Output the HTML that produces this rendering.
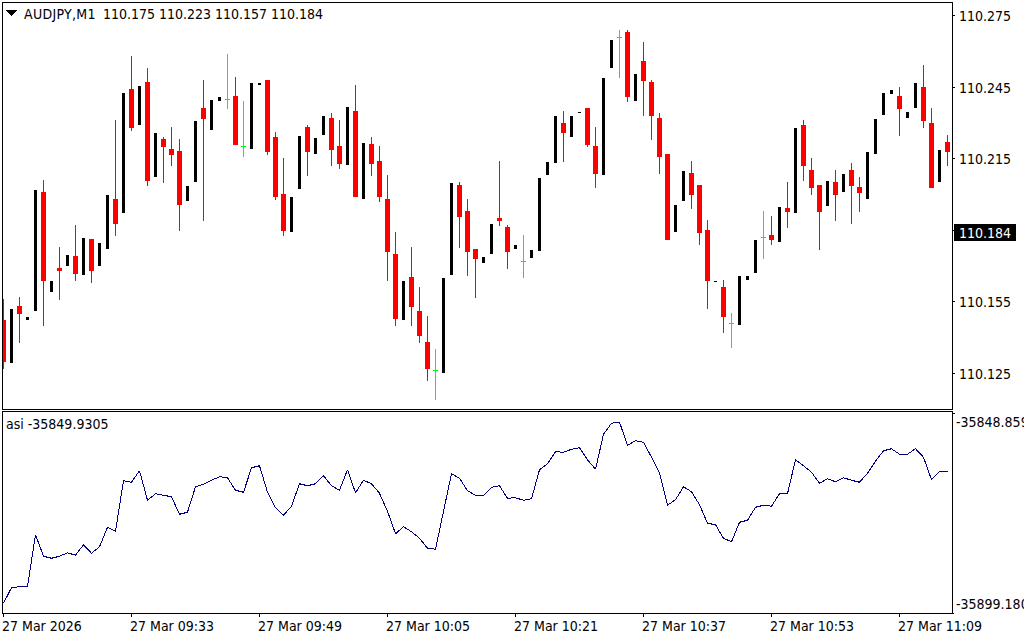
<!DOCTYPE html>
<html><head><meta charset="utf-8"><style>
html,body{margin:0;padding:0;background:#fff;width:1024px;height:640px;overflow:hidden}
#w{position:relative;width:1024px;height:640px}
svg{position:absolute;left:0;top:0}
.t{position:absolute;font-family:"DejaVu Sans Condensed", "DejaVu Sans", sans-serif;font-size:14px;font-stretch:condensed;line-height:17px;white-space:pre}
</style></head><body><div id="w">
<svg width="1024" height="640" viewBox="0 0 1024 640" shape-rendering="crispEdges">
<rect x="0" y="0" width="1024" height="640" fill="#fff"/>
<defs><clipPath id="cm"><rect x="3" y="3" width="949" height="406"/></clipPath><clipPath id="ci"><rect x="3" y="412" width="949" height="201"/></clipPath></defs>
<g clip-path="url(#cm)"><rect x="3" y="299" width="1" height="70" fill="#f00"/>
<rect x="1" y="320" width="5" height="42" fill="#f00"/>
<rect x="10" y="309" width="3" height="54" fill="#000"/>
<rect x="19" y="297" width="1" height="46" fill="#f00"/>
<rect x="17" y="306" width="5" height="8" fill="#f00"/>
<rect x="26" y="317" width="3" height="3" fill="#000"/>
<rect x="34" y="190" width="3" height="121" fill="#000"/>
<rect x="43" y="180" width="1" height="146" fill="#f00"/>
<rect x="41" y="192" width="5" height="89" fill="#f00"/>
<rect x="50" y="281" width="3" height="11" fill="#000"/>
<rect x="59" y="247" width="1" height="53" fill="#f00"/>
<rect x="57" y="268" width="5" height="3" fill="#f00"/>
<rect x="66" y="255" width="3" height="11" fill="#000"/>
<rect x="75" y="225" width="1" height="56" fill="#f00"/>
<rect x="73" y="256" width="5" height="18" fill="#f00"/>
<rect x="82" y="238" width="3" height="37" fill="#000"/>
<rect x="91" y="239" width="1" height="44" fill="#f00"/>
<rect x="89" y="239" width="5" height="32" fill="#f00"/>
<rect x="98" y="243" width="3" height="23" fill="#000"/>
<rect x="106" y="195" width="3" height="54" fill="#000"/>
<rect x="115" y="120" width="1" height="116" fill="#f00"/>
<rect x="113" y="199" width="5" height="25" fill="#f00"/>
<rect x="122" y="93" width="3" height="120" fill="#000"/>
<rect x="131" y="56" width="1" height="75" fill="#f00"/>
<rect x="129" y="89" width="5" height="39" fill="#f00"/>
<rect x="138" y="86" width="3" height="39" fill="#000"/>
<rect x="147" y="68" width="1" height="118" fill="#f00"/>
<rect x="145" y="82" width="5" height="99" fill="#f00"/>
<rect x="154" y="133" width="3" height="44" fill="#000"/>
<rect x="163" y="137" width="1" height="46" fill="#f00"/>
<rect x="161" y="139" width="5" height="8" fill="#f00"/>
<rect x="171" y="127" width="1" height="39" fill="#f00"/>
<rect x="169" y="149" width="5" height="6" fill="#f00"/>
<rect x="179" y="139" width="1" height="92" fill="#f00"/>
<rect x="177" y="151" width="5" height="54" fill="#f00"/>
<rect x="186" y="186" width="3" height="15" fill="#000"/>
<rect x="194" y="121" width="3" height="61" fill="#000"/>
<rect x="203" y="80" width="1" height="141" fill="#f00"/>
<rect x="201" y="108" width="5" height="11" fill="#f00"/>
<rect x="210" y="100" width="3" height="30" fill="#000"/>
<rect x="218" y="97" width="3" height="4" fill="#000"/>
<rect x="227" y="54" width="1" height="55" fill="#0f0"/>
<rect x="225" y="99" width="5" height="1" fill="#0f0"/>
<rect x="235" y="77" width="1" height="68" fill="#f00"/>
<rect x="233" y="96" width="5" height="49" fill="#f00"/>
<rect x="243" y="101" width="1" height="56" fill="#0f0"/>
<rect x="241" y="146" width="5" height="1" fill="#0f0"/>
<rect x="250" y="83" width="3" height="66" fill="#000"/>
<rect x="258" y="83" width="3" height="2" fill="#000"/>
<rect x="267" y="80" width="1" height="75" fill="#f00"/>
<rect x="265" y="80" width="5" height="72" fill="#f00"/>
<rect x="275" y="132" width="1" height="68" fill="#f00"/>
<rect x="273" y="137" width="5" height="60" fill="#f00"/>
<rect x="283" y="158" width="1" height="78" fill="#f00"/>
<rect x="281" y="194" width="5" height="37" fill="#f00"/>
<rect x="290" y="197" width="3" height="35" fill="#000"/>
<rect x="298" y="136" width="3" height="53" fill="#000"/>
<rect x="307" y="125" width="1" height="51" fill="#f00"/>
<rect x="305" y="127" width="5" height="25" fill="#f00"/>
<rect x="314" y="138" width="3" height="16" fill="#000"/>
<rect x="322" y="116" width="3" height="19" fill="#000"/>
<rect x="331" y="113" width="1" height="53" fill="#f00"/>
<rect x="329" y="118" width="5" height="32" fill="#f00"/>
<rect x="339" y="120" width="1" height="49" fill="#f00"/>
<rect x="337" y="146" width="5" height="18" fill="#f00"/>
<rect x="346" y="107" width="3" height="58" fill="#000"/>
<rect x="355" y="85" width="1" height="112" fill="#f00"/>
<rect x="353" y="111" width="5" height="86" fill="#f00"/>
<rect x="362" y="143" width="3" height="56" fill="#000"/>
<rect x="371" y="137" width="1" height="39" fill="#f00"/>
<rect x="369" y="144" width="5" height="20" fill="#f00"/>
<rect x="379" y="146" width="1" height="56" fill="#f00"/>
<rect x="377" y="161" width="5" height="36" fill="#f00"/>
<rect x="387" y="175" width="1" height="106" fill="#f00"/>
<rect x="385" y="199" width="5" height="53" fill="#f00"/>
<rect x="395" y="232" width="1" height="94" fill="#f00"/>
<rect x="393" y="254" width="5" height="65" fill="#f00"/>
<rect x="402" y="281" width="3" height="39" fill="#000"/>
<rect x="411" y="247" width="1" height="79" fill="#f00"/>
<rect x="409" y="277" width="5" height="30" fill="#f00"/>
<rect x="419" y="287" width="1" height="56" fill="#f00"/>
<rect x="417" y="311" width="5" height="25" fill="#f00"/>
<rect x="427" y="316" width="1" height="65" fill="#f00"/>
<rect x="425" y="342" width="5" height="27" fill="#f00"/>
<rect x="435" y="349" width="1" height="51" fill="#0f0"/>
<rect x="433" y="370" width="5" height="1" fill="#0f0"/>
<rect x="442" y="278" width="3" height="95" fill="#000"/>
<rect x="450" y="183" width="3" height="92" fill="#000"/>
<rect x="459" y="182" width="1" height="66" fill="#f00"/>
<rect x="457" y="185" width="5" height="32" fill="#f00"/>
<rect x="467" y="199" width="1" height="77" fill="#f00"/>
<rect x="465" y="211" width="5" height="41" fill="#f00"/>
<rect x="475" y="249" width="1" height="49" fill="#f00"/>
<rect x="473" y="249" width="5" height="10" fill="#f00"/>
<rect x="482" y="257" width="3" height="6" fill="#000"/>
<rect x="490" y="224" width="3" height="30" fill="#000"/>
<rect x="499" y="161" width="1" height="65" fill="#f00"/>
<rect x="497" y="218" width="5" height="3" fill="#f00"/>
<rect x="507" y="225" width="1" height="44" fill="#f00"/>
<rect x="505" y="227" width="5" height="25" fill="#f00"/>
<rect x="514" y="245" width="3" height="4" fill="#000"/>
<rect x="523" y="235" width="1" height="43" fill="#0f0"/>
<rect x="521" y="261" width="5" height="1" fill="#0f0"/>
<rect x="530" y="250" width="3" height="8" fill="#000"/>
<rect x="538" y="178" width="3" height="73" fill="#000"/>
<rect x="546" y="162" width="3" height="13" fill="#000"/>
<rect x="554" y="116" width="3" height="47" fill="#000"/>
<rect x="563" y="111" width="1" height="51" fill="#f00"/>
<rect x="561" y="123" width="5" height="10" fill="#f00"/>
<rect x="570" y="116" width="3" height="21" fill="#000"/>
<rect x="578" y="112" width="3" height="1" fill="#000"/>
<rect x="587" y="108" width="1" height="39" fill="#f00"/>
<rect x="585" y="108" width="5" height="37" fill="#f00"/>
<rect x="595" y="127" width="1" height="61" fill="#f00"/>
<rect x="593" y="146" width="5" height="28" fill="#f00"/>
<rect x="602" y="78" width="3" height="97" fill="#000"/>
<rect x="610" y="40" width="3" height="28" fill="#000"/>
<rect x="619" y="30" width="1" height="48" fill="#0f0"/>
<rect x="617" y="37" width="5" height="1" fill="#0f0"/>
<rect x="627" y="30" width="1" height="72" fill="#f00"/>
<rect x="625" y="32" width="5" height="65" fill="#f00"/>
<rect x="634" y="74" width="3" height="27" fill="#000"/>
<rect x="643" y="42" width="1" height="74" fill="#f00"/>
<rect x="641" y="61" width="5" height="20" fill="#f00"/>
<rect x="651" y="80" width="1" height="60" fill="#f00"/>
<rect x="649" y="82" width="5" height="34" fill="#f00"/>
<rect x="659" y="113" width="1" height="61" fill="#f00"/>
<rect x="657" y="118" width="5" height="39" fill="#f00"/>
<rect x="667" y="154" width="1" height="86" fill="#f00"/>
<rect x="665" y="154" width="5" height="86" fill="#f00"/>
<rect x="674" y="205" width="3" height="27" fill="#000"/>
<rect x="682" y="171" width="3" height="30" fill="#000"/>
<rect x="691" y="161" width="1" height="48" fill="#f00"/>
<rect x="689" y="173" width="5" height="22" fill="#f00"/>
<rect x="699" y="185" width="1" height="60" fill="#f00"/>
<rect x="697" y="185" width="5" height="48" fill="#f00"/>
<rect x="707" y="220" width="1" height="89" fill="#f00"/>
<rect x="705" y="230" width="5" height="51" fill="#f00"/>
<rect x="714" y="281" width="3" height="1" fill="#000"/>
<rect x="723" y="280" width="1" height="53" fill="#f00"/>
<rect x="721" y="287" width="5" height="30" fill="#f00"/>
<rect x="731" y="313" width="1" height="35" fill="#0f0"/>
<rect x="729" y="323" width="5" height="1" fill="#0f0"/>
<rect x="738" y="276" width="3" height="49" fill="#000"/>
<rect x="746" y="276" width="3" height="4" fill="#000"/>
<rect x="754" y="240" width="3" height="33" fill="#000"/>
<rect x="763" y="211" width="1" height="48" fill="#0f0"/>
<rect x="761" y="237" width="5" height="1" fill="#0f0"/>
<rect x="771" y="216" width="1" height="29" fill="#f00"/>
<rect x="769" y="235" width="5" height="5" fill="#f00"/>
<rect x="778" y="207" width="3" height="35" fill="#000"/>
<rect x="787" y="182" width="1" height="46" fill="#f00"/>
<rect x="785" y="208" width="5" height="4" fill="#f00"/>
<rect x="794" y="128" width="3" height="85" fill="#000"/>
<rect x="803" y="120" width="1" height="61" fill="#f00"/>
<rect x="801" y="125" width="5" height="41" fill="#f00"/>
<rect x="811" y="158" width="1" height="37" fill="#f00"/>
<rect x="809" y="170" width="5" height="18" fill="#f00"/>
<rect x="819" y="185" width="1" height="65" fill="#f00"/>
<rect x="817" y="185" width="5" height="27" fill="#f00"/>
<rect x="826" y="181" width="3" height="25" fill="#000"/>
<rect x="835" y="170" width="1" height="51" fill="#f00"/>
<rect x="833" y="182" width="5" height="13" fill="#f00"/>
<rect x="842" y="174" width="3" height="18" fill="#000"/>
<rect x="851" y="163" width="1" height="61" fill="#f00"/>
<rect x="849" y="170" width="5" height="16" fill="#f00"/>
<rect x="859" y="177" width="1" height="35" fill="#f00"/>
<rect x="857" y="187" width="5" height="6" fill="#f00"/>
<rect x="866" y="152" width="3" height="47" fill="#000"/>
<rect x="874" y="119" width="3" height="35" fill="#000"/>
<rect x="882" y="93" width="3" height="22" fill="#000"/>
<rect x="890" y="90" width="3" height="4" fill="#000"/>
<rect x="899" y="87" width="1" height="49" fill="#f00"/>
<rect x="897" y="96" width="5" height="13" fill="#f00"/>
<rect x="906" y="112" width="3" height="6" fill="#000"/>
<rect x="914" y="83" width="3" height="25" fill="#000"/>
<rect x="923" y="65" width="1" height="63" fill="#f00"/>
<rect x="921" y="87" width="5" height="34" fill="#f00"/>
<rect x="931" y="108" width="1" height="80" fill="#f00"/>
<rect x="929" y="123" width="5" height="65" fill="#f00"/>
<rect x="938" y="150" width="3" height="32" fill="#000"/>
<rect x="947" y="135" width="1" height="31" fill="#f00"/>
<rect x="945" y="142" width="5" height="10" fill="#f00"/></g>
<g clip-path="url(#ci)"><polyline points="3.5,603.25 11.5,587.75 19.5,586.75 27.5,586.75 35.5,534.75 43.5,556.25 51.5,558.25 59.5,556.25 67.5,552.75 75.5,555.25 83.5,544.75 91.5,553.25 99.5,546.75 107.5,527.25 115.5,531.25 123.5,480.75 131.5,482.25 139.5,470.75 147.5,500.25 155.5,493.75 163.5,495.25 171.5,496.75 179.5,514.25 187.5,512.25 195.5,486.75 203.5,484.25 211.5,480.25 219.5,476.75 227.5,477.75 235.5,490.25 243.5,492.25 251.5,467.75 259.5,465.75 267.5,492.25 275.5,507.75 283.5,515.25 291.5,506.25 299.5,483.75 307.5,485.75 315.5,483.75 323.5,475.75 331.5,485.75 339.5,490.25 347.5,469.75 355.5,492.75 363.5,480.25 371.5,483.75 379.5,493.25 387.5,511.25 395.5,533.75 403.5,526.75 411.5,531.75 419.5,538.25 427.5,548.25 435.5,549.25 443.5,511.25 451.5,473.75 459.5,478.25 467.5,490.75 475.5,495.25 483.5,495.25 491.5,487.25 499.5,485.75 507.5,498.25 515.5,497.75 523.5,500.25 531.5,498.75 539.5,469.75 547.5,463.75 555.5,451.75 563.5,452.25 571.5,449.25 579.5,447.75 587.5,459.75 595.5,469.25 603.5,434.25 611.5,423.25 619.5,422.25 627.5,445.25 635.5,440.75 643.5,442.25 651.5,457.25 659.5,473.25 667.5,505.25 675.5,499.75 683.5,486.75 691.5,491.75 699.5,504.75 707.5,523.25 715.5,524.75 723.5,538.25 731.5,541.75 739.5,522.25 747.5,520.25 755.5,507.25 763.5,505.25 771.5,506.25 779.5,493.75 787.5,493.75 795.5,459.75 803.5,465.75 811.5,472.25 819.5,483.25 827.5,478.75 835.5,481.75 843.5,477.75 851.5,480.25 859.5,482.25 867.5,473.25 875.5,461.25 883.5,450.75 891.5,448.75 899.5,454.25 907.5,454.25 915.5,448.75 923.5,457.25 931.5,479.75 939.5,471.75 947.5,471.75" fill="none" stroke="#000080" stroke-width="1" stroke-linejoin="bevel"/></g>
<rect x="2" y="2" width="951" height="1" fill="#000"/>
<rect x="2" y="409" width="951" height="1" fill="#000"/>
<rect x="2" y="2" width="1" height="408" fill="#000"/>
<rect x="952" y="2" width="1" height="408" fill="#000"/>
<rect x="2" y="411" width="951" height="1" fill="#000"/>
<rect x="2" y="613" width="951" height="1" fill="#000"/>
<rect x="2" y="411" width="1" height="203" fill="#000"/>
<rect x="952" y="411" width="1" height="203" fill="#000"/>
<rect x="953" y="15" width="2" height="1" fill="#000"/>
<rect x="953" y="87" width="2" height="1" fill="#000"/>
<rect x="953" y="158" width="2" height="1" fill="#000"/>
<rect x="953" y="301" width="2" height="1" fill="#000"/>
<rect x="953" y="373" width="2" height="1" fill="#000"/>
<rect x="953" y="230" width="2" height="1" fill="#000"/>
<rect x="954" y="224" width="62" height="17" fill="#000"/>
<rect x="953" y="413" width="2" height="1" fill="#000"/>
<rect x="953" y="613" width="1" height="1" fill="#000"/>
<rect x="3" y="614" width="1" height="3" fill="#000"/>
<rect x="131" y="614" width="1" height="3" fill="#000"/>
<rect x="259" y="614" width="1" height="3" fill="#000"/>
<rect x="387" y="614" width="1" height="3" fill="#000"/>
<rect x="515" y="614" width="1" height="3" fill="#000"/>
<rect x="643" y="614" width="1" height="3" fill="#000"/>
<rect x="771" y="614" width="1" height="3" fill="#000"/>
<rect x="899" y="614" width="1" height="3" fill="#000"/>
<rect x="6" y="10" width="11" height="1" fill="#000"/>
<rect x="7" y="11" width="9" height="1" fill="#000"/>
<rect x="8" y="12" width="7" height="1" fill="#000"/>
<rect x="9" y="13" width="5" height="1" fill="#000"/>
<rect x="10" y="14" width="3" height="1" fill="#000"/>
<rect x="11" y="15" width="1" height="1" fill="#000"/>
</svg>
<div class="t" style="left:24px;top:6px;color:#000"><span style="letter-spacing:0.3px">AUDJPY,M1</span></div>
<div class="t" style="left:103px;top:6px;color:#000">110.175</div>
<div class="t" style="left:159px;top:6px;color:#000">110.223</div>
<div class="t" style="left:215px;top:6px;color:#000">110.157</div>
<div class="t" style="left:271px;top:6px;color:#000">110.184</div>
<div class="t" style="left:959px;top:8px;color:#000">110.275</div>
<div class="t" style="left:959px;top:80px;color:#000">110.245</div>
<div class="t" style="left:959px;top:151px;color:#000">110.215</div>
<div class="t" style="left:959px;top:294px;color:#000">110.155</div>
<div class="t" style="left:959px;top:366px;color:#000">110.125</div>
<div class="t" style="left:959px;top:225px;color:#fff">110.184</div>
<div class="t" style="left:6px;top:416px;color:#000">asi -35849.9305</div>
<div class="t" style="left:956px;top:414px;color:#000">-35848.859</div>
<div class="t" style="left:956px;top:596px;color:#000">-35899.180</div>
<div class="t" style="left:2px;top:618px;color:#000">27 Mar 2026</div>
<div class="t" style="left:130px;top:618px;color:#000">27 Mar 09:33</div>
<div class="t" style="left:258px;top:618px;color:#000">27 Mar 09:49</div>
<div class="t" style="left:386px;top:618px;color:#000">27 Mar 10:05</div>
<div class="t" style="left:514px;top:618px;color:#000">27 Mar 10:21</div>
<div class="t" style="left:642px;top:618px;color:#000">27 Mar 10:37</div>
<div class="t" style="left:770px;top:618px;color:#000">27 Mar 10:53</div>
<div class="t" style="left:898px;top:618px;color:#000">27 Mar 11:09</div>
</div></body></html>
